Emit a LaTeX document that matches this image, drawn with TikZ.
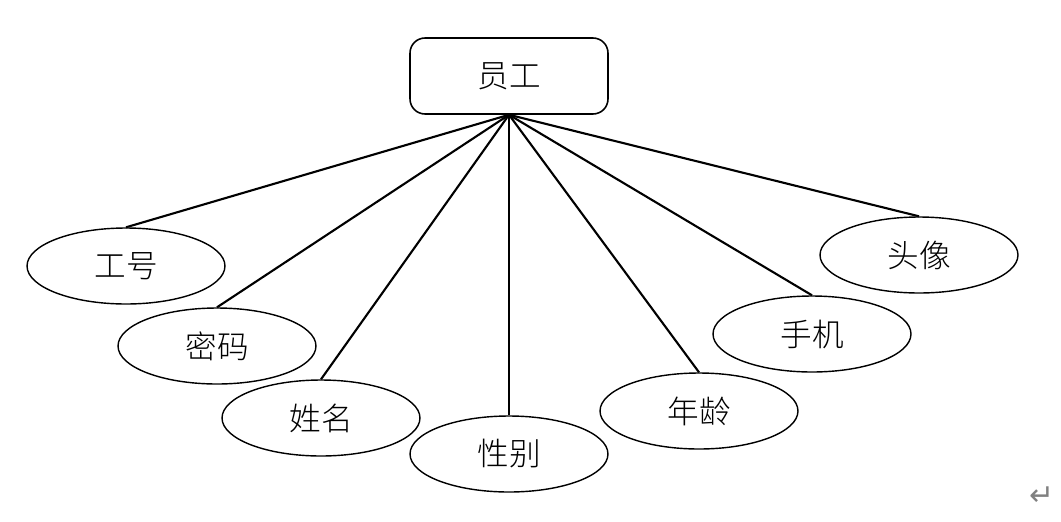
\documentclass[tikz,border=0pt]{standalone}
\usepackage{fontspec}
\newfontfamily\cjk{Noto Sans CJK SC Light}
\newfontfamily\symfont{DejaVu Sans}
\usepackage{tikz}
\usetikzlibrary{shapes.geometric}

\begin{document}
\begin{tikzpicture}[
      x=0.02cm, y=-0.02cm,
      font=\cjk\fontsize{18}{21}\selectfont,
      entity/.style={
          rectangle, draw=black, fill=white,
          line width=0.9pt, rounded corners=0.3cm,
          minimum width=3.96cm, minimum height=1.52cm,
          inner sep=0pt
      },
      attr/.style={
          ellipse, draw=black, fill=white,
          line width=0.8pt,
          minimum width=3.96cm, minimum height=1.52cm,
          inner sep=0pt
      },
      link/.style={line width=1.2pt, draw=black}
  ]
  \useasboundingbox (0,0) rectangle (1061,521);

  % entity
  \node[entity] (emp) at (509,76) {员工};

  % attributes
  \node[attr] (id)     at (126,266) {工号};
  \node[attr] (pwd)    at (217,346) {密码};
  \node[attr] (name)   at (321,418) {姓名};
  \node[attr] (sex)    at (509,454) {性别};
  \node[attr] (age)    at (699,411) {年龄};
  \node[attr] (phone)  at (812,334) {手机};
  \node[attr] (avatar) at (919,255) {头像};

  \foreach \a in {id,pwd,name,sex,age,phone,avatar}{
      \draw[link] (emp.south) -- (\a.north);
  }

  \node[font=\symfont\fontsize{17}{19}\selectfont, text=gray] (ret) at (1042,496) {↵};
  \end{tikzpicture}
\end{document}
